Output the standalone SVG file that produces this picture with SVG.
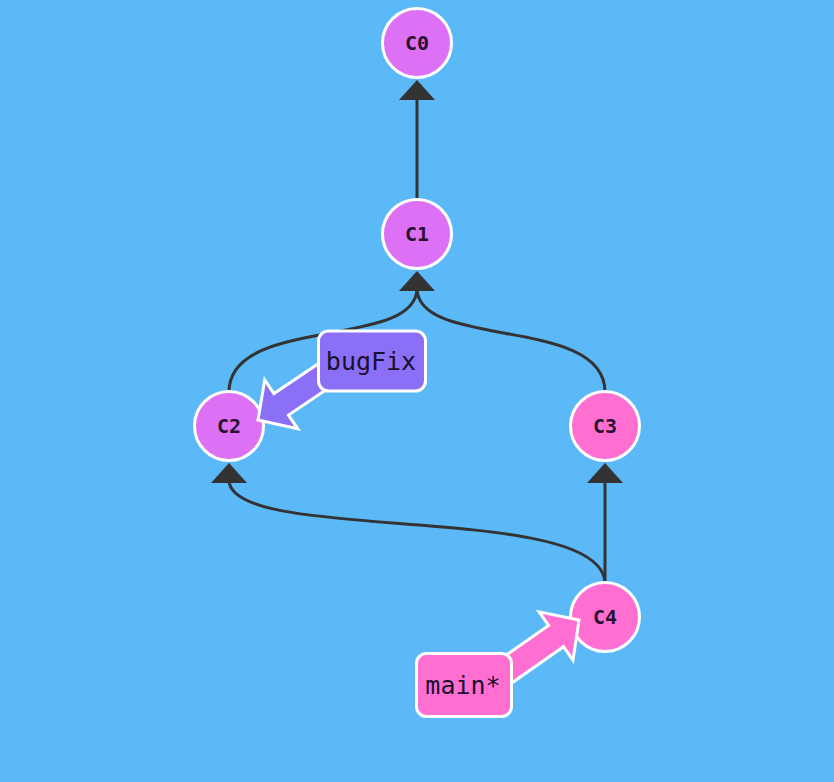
<svg xmlns="http://www.w3.org/2000/svg" width="834" height="782" viewBox="0 0 834 782">
<style>
.edge{fill:none;stroke:#333;stroke-width:3}
.head{fill:#333}
.node{stroke:#fff;stroke-width:3}
.c-purple{fill:#dd71f5}
.c-pink{fill:#ff6fd2}
.nlabel{font-family:"DejaVu Sans Mono","Liberation Mono",monospace;font-size:20px;font-weight:bold;fill:#2a1030;text-anchor:middle;dominant-baseline:central}
.blabel{font-family:"DejaVu Sans Mono","Liberation Mono",monospace;font-size:25px;fill:#1a1030;text-anchor:middle;dominant-baseline:central}
.bbox{stroke:#fff;stroke-width:3}
.barrow{stroke:#fff;stroke-width:3;stroke-linejoin:miter}
</style>
<defs>
<polygon id="bigArrow" points="0,0 -28,-29.5 -28,-13 -110,-13 -110,13 -28,13 -28,29.5"/>
<polygon id="tri" points="0,0 -18,20 18,20"/>
</defs>
<rect width="834" height="782" fill="#5cb9f8"/>
<g id="connectors">
<path class="edge" d="M417,200 L417,96"/>
<path class="edge" d="M229,392 C229,315 417,350 417,288"/>
<path class="edge" d="M605,392 C605,315 417,350 417,288"/>
<path class="edge" d="M605,584 L605,480"/>
<path class="edge" d="M605,584 C605,500 229,545 229,480"/>
<use href="#tri" class="head" x="417" y="80"/>
<use href="#tri" class="head" x="417" y="271"/>
<use href="#tri" class="head" x="229" y="463"/>
<use href="#tri" class="head" x="605" y="463"/>
</g>
<g id="C0"><circle class="node c-purple" cx="417" cy="43" r="34.5"/><text class="nlabel" x="417" y="43">C0</text></g>
<g id="C1"><circle class="node c-purple" cx="417" cy="234" r="34.5"/><text class="nlabel" x="417" y="234">C1</text></g>
<g id="C2"><circle class="node c-purple" cx="229" cy="426" r="34.5"/><text class="nlabel" x="229" y="426">C2</text></g>
<g id="C3"><circle class="node c-pink" cx="605" cy="426" r="34.5"/><text class="nlabel" x="605" y="426">C3</text></g>
<g id="C4"><circle class="node c-pink" cx="605" cy="617" r="34.5"/><text class="nlabel" x="605" y="617">C4</text></g>
<g id="bugFix">
<use href="#bigArrow" class="barrow" fill="#8b6ff7" transform="translate(258,420) rotate(146)"/>
<rect class="bbox" fill="#8b6ff7" x="318.5" y="331" width="107" height="60" rx="10"/>
<text class="blabel" x="371" y="361">bugFix</text>
</g>
<g id="main">
<use href="#bigArrow" class="barrow" fill="#ff6fd2" transform="translate(579,620) rotate(-35)"/>
<rect class="bbox" fill="#ff6fd2" x="416.5" y="653.5" width="95" height="63" rx="10"/>
<text class="blabel" x="463" y="685">main*</text>
</g>
</svg>
